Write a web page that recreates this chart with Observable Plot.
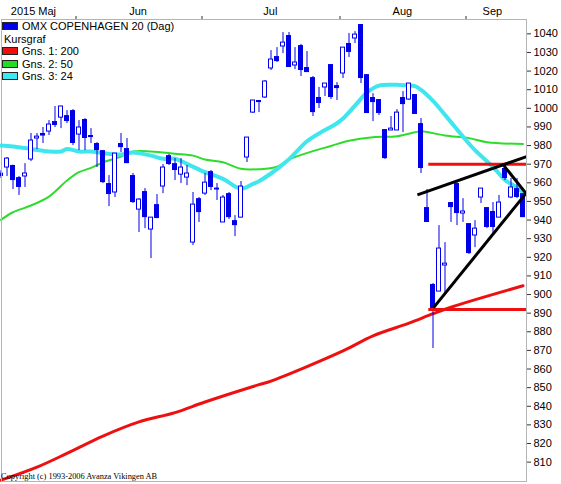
<!DOCTYPE html>
<html><head><meta charset="utf-8">
<script src="https://cdn.jsdelivr.net/npm/d3@7"></script>
<script src="https://cdn.jsdelivr.net/npm/@observablehq/plot@0.6"></script>
<style>
body{margin:0;background:#fff;}
#wrap{position:relative;width:561px;height:484px;font-family:"Liberation Sans",Arial,sans-serif;}
#chart{position:absolute;left:0;top:0;}
#legend{position:absolute;left:2px;top:20px;font-size:11px;line-height:12.5px;color:#000;white-space:nowrap;}
#legend .sw{display:inline-block;width:14px;height:6px;border:1px solid #222;margin-right:4px;vertical-align:0px;}
#legend .plain{padding-left:2px;}
#copy{position:absolute;left:1px;top:472px;font-family:"Liberation Serif","Times New Roman",serif;font-size:8.4px;color:#000;white-space:nowrap;}
</style></head>
<body><div id="wrap"><div id="chart"></div><div id="legend"></div><div id="copy"></div></div>
<script>
// ---- data (trading-day index 0..87, mid-May to mid-Sep 2015) ----
const opens  = [965.2,968.2,969.3,962.8,963.4,972.5,983.8,986.5,987.5,992.9,995.0,996.1,998.8,985.9,994.0,985.4,981.1,977.3,959.6,954.8,981.1,978.4,963.9,945.6,955.3,934.9,948.3,958.0,974.6,970.3,964.4,962.8,927.9,951.5,954.2,966.0,956.4,938.7,954.2,939.7,941.3,973.6,997.7,1004.2,1005.8,1021.4,1027.8,1033.2,1039.1,1023.0,1033.7,1021.9,1016.5,1005.8,1011.2,1023.5,1012.2,1018.7,1034.8,1037.5,1045.0,1018.1,1005.8,1004.7,988.6,988.1,988.1,1005.8,1004.7,1007.4,991.8,946.7,905.4,901.6,915.6,949.4,959.6,943.5,938.1,931.7,952.1,946.7,944.6,941.3,967.7,952.1,956.9,954.2];
const highs  = [966.6,973.6,969.5,963.4,970.3,986.5,986.5,989.7,993.4,1001.0,1001.0,998.8,999.3,993.4,994.5,989.1,981.6,977.3,963.9,975.7,986.5,983.8,965.0,951.5,956.9,941.3,953.7,969.8,975.2,973.0,973.0,969.3,954.8,952.1,965.0,966.6,959.6,953.2,954.8,942.4,960.7,984.3,1004.2,1004.2,1014.9,1031.0,1032.6,1040.7,1040.7,1032.6,1034.3,1030.5,1017.1,1011.2,1013.3,1023.5,1013.8,1032.6,1040.2,1041.2,1045.0,1018.1,1007.9,1004.7,988.6,995.6,999.3,1009.0,1013.3,1007.4,994.5,956.4,905.9,937.0,927.9,949.4,960.1,951.5,938.1,939.7,956.9,946.7,949.4,953.2,968.2,962.3,962.3,954.2];
const lows   = [962.3,963.4,956.4,953.2,957.5,971.4,977.9,981.1,985.4,989.7,989.1,991.8,980.0,977.3,977.3,981.1,968.2,959.6,947.2,952.1,976.3,970.3,948.9,933.3,935.4,919.3,940.8,954.2,969.3,961.2,959.6,958.5,926.3,938.7,953.2,955.8,950.5,938.7,940.3,931.1,941.3,970.9,997.2,997.7,1005.3,1020.3,1024.6,1029.4,1021.9,1020.8,1017.1,1019.2,995.6,999.9,1006.3,1004.7,1004.2,1016.0,1027.3,1034.8,1013.3,997.2,992.9,996.1,972.5,988.1,988.1,987.0,1004.2,996.7,965.0,938.7,871.0,901.6,901.1,938.7,937.0,938.7,921.5,925.2,948.9,935.4,932.8,941.3,961.2,951.5,951.5,941.3];
const closes = [963.4,973.0,961.2,957.5,965.0,982.7,984.8,985.1,991.3,990.8,1001.0,992.9,981.1,989.7,983.8,984.3,977.3,960.1,953.7,975.7,978.9,970.3,949.4,951.0,941.3,941.3,940.8,968.2,969.8,966.6,968.2,965.0,948.3,944.0,960.1,957.5,956.9,952.1,941.3,937.0,958.0,984.3,1004.2,1003.1,1014.4,1026.2,1025.1,1035.3,1021.9,1024.6,1020.3,1019.2,997.7,1002.6,1013.3,1005.8,1010.6,1032.6,1030.0,1039.6,1016.0,997.2,1003.1,997.2,973.0,989.1,997.7,1002.0,1013.3,996.7,967.7,938.7,891.4,924.7,916.6,946.7,943.5,944.6,922.0,935.4,956.9,936.0,936.0,949.4,962.3,957.5,952.1,941.3];

// moving averages read at sample days
const ma200Day = [0,6,11,17,23,29,34,43,45,57,62,68,72,75,87];
const ma200Val = [800.3,807.3,814.7,824.0,831.6,836.6,842.3,851.6,853.5,869.7,877.8,884.6,889.7,893.2,904.7];
const ma50Day  = [0,2,5,8,11,13,15,17,20,22,25,29,32,34,37,40,43,46,48,52,55,58,62,66,70,71,74,78,81,87];
const ma50Val  = [940.1,944.2,947.8,952.6,961.2,965.7,968.0,971.0,974.1,976.8,976.8,975.6,974.6,972.5,971.0,967.5,967.3,968.6,972.5,977.0,979.8,982.6,984.5,985.0,987.7,987.3,985.4,984.0,981.8,980.9];
const ma24Day  = [0,2,5,8,10,11,13,15,17,20,22,25,27,29,31,34,37,40,42,43,45,48,51,53,56,57,59,61,63,66,69,70,72,74,77,79,82,84,86,87];
const ma24Val  = [980.0,979.5,978.2,976.8,976.8,978.2,976.8,976.8,975.9,975.2,976.3,974.6,972.9,972.9,970.2,965.7,962.1,956.8,959.4,960.9,965.0,972.7,982.3,986.5,992.0,994.5,1001.4,1008.5,1012.2,1012.6,1011.9,1009.9,1004.0,996.5,984.8,977.5,968.5,961.5,957.5,955.0];

// drawn trendlines (day, price) and horizontal levels
const trendFromDay  = [69.4, 72.1, 83.75];
const trendFromVal  = [953.5, 893.0, 969.5];
const trendToDay    = [87.6, 87.5, 87.5];
const trendToVal    = [974.1, 954.3, 954.3];
const levelVal      = [970, 892];
const levelFromDay  = [71.3, 71.3];

const monthNames   = ["2015 Maj","Jun","Jul","Aug","Sep"];
const monthLabelDay= [5.4, 22.85, 44.9, 66.9, 81.9];
const monthTickDay = [12.5, 33.5, 56.5, 77.5];
const yTicks = d3.range(810, 1041, 10);

const legendNames  = ["OMX COPENHAGEN 20 (Dag)","Kursgraf","Gns. 1: 200","Gns. 2: 50","Gns. 3: 24"];
const legendColors = ["#0000e8", null, "#ee1010", "#22dd22", "#3ee8f0"];

// ---- build ----
const blue = "#0000e8", red = "#ee1010", green = "#2edc2e", cyan = "#40e6ee";
const candles = opens.map((o, i) => ({i, open: o, high: highs[i], low: lows[i], close: closes[i]}));
const down = candles.filter(d => d.close < d.open);
const up = candles.filter(d => d.close >= d.open);
const pts = (days, vals) => days.map((d, k) => ({i: d, v: vals[k]}));
const trends = trendFromDay.map((d, k) => ({x1: d, y1: trendFromVal[k], x2: trendToDay[k], y2: trendToVal[k]}));
const levels = levelVal.map((v, k) => ({v, from: levelFromDay[k]}));
const months = monthNames.map((m, k) => ({label: m, i: monthLabelDay[k]}));
const lastX = 87 + 7/12;

const chart = Plot.plot({
  width: 561, height: 484,
  marginLeft: 1, marginRight: 35, marginTop: 19, marginBottom: 3,
  style: {fontFamily: "Liberation Sans, Arial, sans-serif", fontSize: "11px", background: "white", color: "#000", overflow: "visible"},
  x: {type: "linear", domain: [1/12, lastX], axis: null},
  y: {domain: [799.6, 1047.7], axis: null},
  marks: [
    Plot.axisY({anchor: "right", ticks: yTicks, tickSize: 4, tickPadding: 3, tickFormat: d => String(d), label: null, stroke: "#333", fill: "#000"}),
    Plot.axisX({anchor: "top", ticks: monthTickDay, tickSize: 4, tickFormat: () => "", label: null, stroke: "#333"}),
    Plot.text(months, {x: "i", text: "label", frameAnchor: "top", dy: -12, fill: "#000"}),
    Plot.line(pts(ma200Day, ma200Val), {x: "i", y: "v", stroke: red, strokeWidth: 3, curve: "catmull-rom"}),
    Plot.line(pts(ma50Day, ma50Val), {x: "i", y: "v", stroke: green, strokeWidth: 2, curve: "catmull-rom"}),
    Plot.line(pts(ma24Day, ma24Val), {x: "i", y: "v", stroke: cyan, strokeWidth: 4, curve: "catmull-rom"}),
    Plot.ruleX(candles, {x: "i", y1: "low", y2: "high", stroke: blue, strokeWidth: 1}),
    Plot.rect(down, {x1: d => d.i - 5/12, x2: d => d.i + 5/12, y1: "open", y2: "close", fill: blue}),
    Plot.rect(up, {x1: d => d.i - 1/3, x2: d => d.i + 1/3, y1: "open", y2: "close", fill: "white", stroke: blue, strokeWidth: 1}),
    Plot.ruleY(levels, {y: "v", x1: "from", x2: lastX, stroke: red, strokeWidth: 3}),
    Plot.link(trends, {x1: "x1", y1: "y1", x2: "x2", y2: "y2", stroke: "#000", strokeWidth: 3}),
    Plot.frame({stroke: "#b4b4b4"})
  ]
});
document.getElementById("chart").appendChild(chart);

const lg = document.getElementById("legend");
legendNames.forEach((n, k) => {
  const row = document.createElement("div");
  if (legendColors[k]) {
    const s = document.createElement("span");
    s.className = "sw"; s.style.background = legendColors[k];
    row.appendChild(s);
    row.appendChild(document.createTextNode(n));
  } else {
    row.className = "plain"; row.textContent = n;
  }
  lg.appendChild(row);
});
document.getElementById("copy").textContent = "Copyright (c) 1993-2006 Avanza Vikingen AB";
</script>
</body></html>
